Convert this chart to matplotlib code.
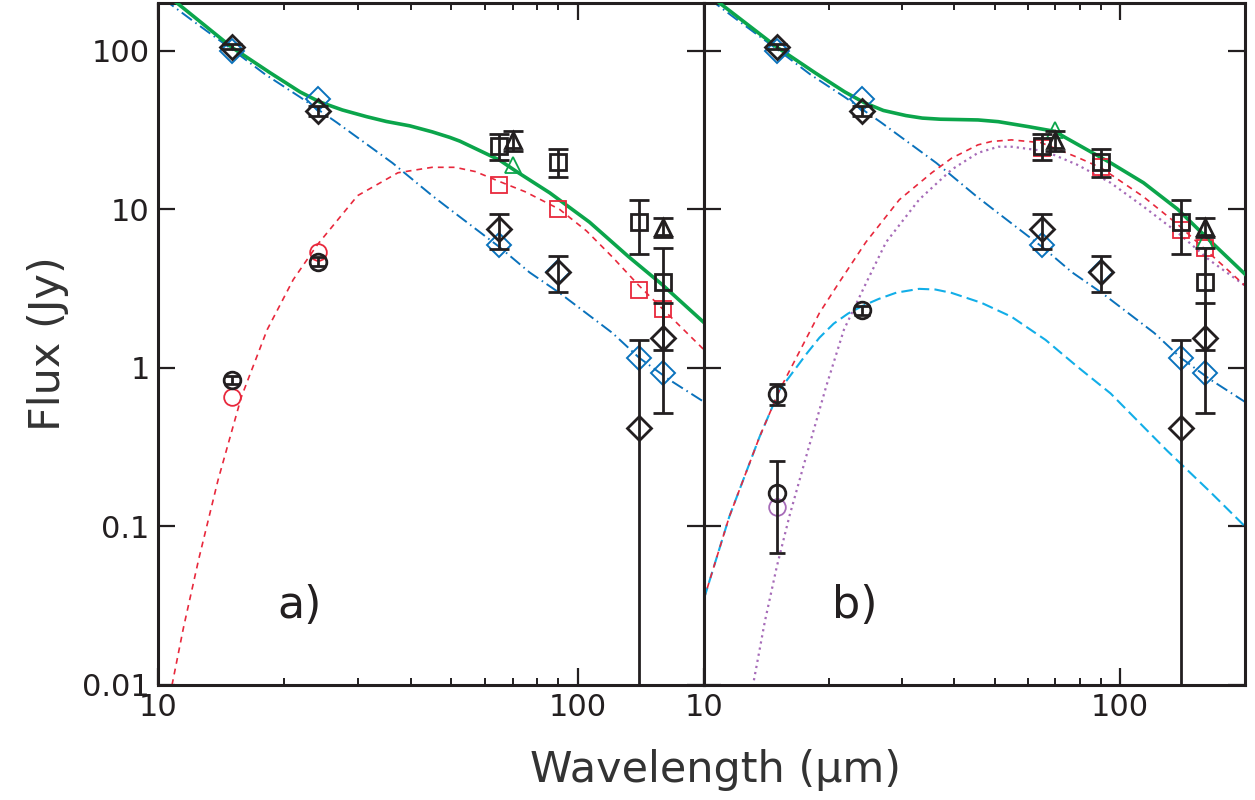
import matplotlib
matplotlib.use("Agg")
import matplotlib.pyplot as plt
from matplotlib.ticker import FixedLocator, NullLocator, FixedFormatter

# ---------------- data ----------------
# photometry: observed (black) and model (coloured)
wl_diam = [15, 24, 65, 90, 140, 160]
obs_diam = [106, 41.8, 7.5, 4.04, 0.42, 1.55]
obs_diam_err = [4.0, 3.0, 1.9, 1.05, 1.08, 1.03]
mod_diam = [100, 49.8, 5.97, 4.0, 1.16, 0.93]

wl_sq = [65, 90, 140, 160]
obs_sq = [25.1, 20.0, 8.3, 3.5]
obs_sq_err = [4.7, 4.1, 3.1, 2.2]
mod_sq_a = [14.3, 10.0, 3.1, 2.35]
mod_sq_b = [24.5, 18.6, 7.4, 5.7]

wl_tri = [70, 160]
obs_tri = [27.2, 7.7]
obs_tri_err = [3.8, 1.05]
wl_tri_a = [70]
mod_tri_a = [19.1]
mod_tri_b = [31.7, 6.4]

wl_circ_a = [15, 24]
obs_circ_a = [0.84, 4.67]
obs_circ_a_err = [0.05, 0.3]
mod_circ_a = [0.656, 5.4]

wl_circ_b = [15, 15, 24]
obs_circ_b = [0.686, 0.163, 2.32]
obs_circ_b_err = [0.10, 0.095, 0.15]
wl_purple_circ = [15]
mod_purple_circ = [0.133]

# model curves
wl_star = [10, 12, 15, 18, 21.8, 26.7, 36.2, 45, 49.6, 65, 76.8, 90.5, 121, 140, 165.5, 200]
f_star = [225, 157, 102, 71, 51, 35.2, 19.6, 12.2, 10.0, 5.8, 4.0, 2.97, 1.66, 1.16, 0.84, 0.61]

wl_dust_a = [10.8, 11.5, 12.5, 13.9, 15.8, 18.2, 21, 24, 29.9, 37.3, 45, 51, 57, 61.6, 65, 75, 90.5, 105, 121, 140, 165, 200]
f_dust_a = [0.010, 0.023, 0.062, 0.196, 0.656, 1.74, 3.6, 6.0, 12.2, 17.0, 18.4, 18.4, 17.3, 15.9, 15.0, 12.9, 10.0, 7.3, 5.0, 3.3, 2.15, 1.3]

wl_tot_a = [10, 11.1, 15, 18.5, 21.8, 24.3, 27.5, 31.4, 35, 39.8, 45, 49.6, 52.4, 65, 71.5, 85.8, 106.7, 132.5, 159, 200]
f_tot_a = [245, 200, 105, 72.6, 55, 47.5, 42.3, 38.4, 35.8, 33.6, 30.8, 28.4, 26.9, 20.5, 17.3, 12.7, 8.3, 5.0, 3.35, 1.93]

wl_warm_b = [10, 11.5, 13.6, 15.2, 17.7, 18.95, 20.5, 22.2, 24, 26.3, 29, 32.9, 36, 39.4, 46.5, 54.9, 66.3, 79.3, 95, 114, 130, 165, 200]
f_warm_b = [0.035, 0.115, 0.367, 0.726, 1.24, 1.55, 1.9, 2.2, 2.45, 2.72, 2.98, 3.15, 3.12, 2.97, 2.57, 2.1, 1.5, 1.01, 0.69, 0.425, 0.3, 0.165, 0.10]

wl_cold_b = [13.1, 14.0, 14.96, 16.06, 17.6, 19.66, 21.7, 24.5, 27.4, 32.9, 39.4, 45.6, 51, 55, 66, 79, 95, 114, 138, 164, 200]
f_cold_b = [0.0098, 0.025, 0.0556, 0.117, 0.275, 0.76, 1.74, 3.4, 6.2, 11.5, 17.8, 22.7, 24.8, 24.8, 23.3, 19.1, 14.7, 10.4, 7.1, 4.8, 3.3]

wl_dust_b = [10, 11.5, 13.6, 15.2, 16.5, 17.7, 18.95, 21.2, 24.5, 29.5, 35.3, 39.4, 45.6, 49.2, 54.9, 64.7, 79.3, 90, 114, 138, 164, 200]
f_dust_b = [0.035, 0.115, 0.367, 0.726, 1.1, 1.57, 2.22, 3.5, 6.2, 11.5, 17.0, 21.0, 25.5, 26.8, 27.4, 26.3, 21.2, 18.3, 12.0, 8.0, 5.3, 3.3]

wl_tot_b = [10, 10.9, 15, 18.5, 21.8, 24.3, 27, 30.6, 33.5, 37, 45.6, 51, 60.3, 69.8, 73.7, 84, 95.1, 114, 137.8, 164, 200]
f_tot_b = [245, 200, 105, 72.6, 55, 47, 42, 39.0, 37.6, 37.0, 36.6, 35.7, 33.2, 31.0, 28.5, 23.5, 19.6, 14.7, 10.0, 6.4, 3.9]

x_major = [10, 100]
x_major_labels = ["10", "100"]
x_minor = [20, 30, 40, 50, 60, 70, 80, 90]
y_major = [0.01, 0.1, 1, 10, 100]
y_major_labels = ["0.01", "0.1", "1", "10", "100"]

# ---------------- style ----------------
BLACK = "#231f20"
GREEN = "#0ba54b"
RED = "#e8283c"
BLUE = "#0a72bc"
CYAN = "#12aee8"
PURPLE = "#a66bb8"

plt.rcParams["font.family"] = ["DejaVu Sans"]

fig = plt.figure(figsize=(12.55, 8), dpi=100)
ax1 = fig.add_axes([0.1259, 0.14375, 0.43506, 0.8525])
ax2 = fig.add_axes([0.56096, 0.14375, 0.43108, 0.8525])

for ax in (ax1, ax2):
    ax.set_xscale("log")
    ax.set_yscale("log")
    ax.set_xlim(10, 200)
    ax.set_ylim(0.01, 200)
    ax.xaxis.set_major_locator(FixedLocator(x_major))
    ax.xaxis.set_major_formatter(FixedFormatter(x_major_labels))
    ax.xaxis.set_minor_locator(FixedLocator(x_minor))
    ax.xaxis.set_minor_formatter(FixedFormatter([""] * len(x_minor)))
    ax.yaxis.set_major_locator(FixedLocator(y_major))
    ax.yaxis.set_major_formatter(FixedFormatter(y_major_labels))
    ax.yaxis.set_minor_locator(NullLocator())
    ax.tick_params(which="both", direction="in", top=True, right=True,
                   colors=BLACK, labelsize=22)
    ax.tick_params(which="major", length=12, width=1.6, pad=6)
    ax.tick_params(which="minor", length=5, width=1.4)
    for s in ax.spines.values():
        s.set_linewidth(2.2)
        s.set_color(BLACK)

ax2.tick_params(labelleft=False)

ms = 12
diam_ms = 12.5
eb_kw = dict(ecolor=BLACK, elinewidth=2.0, capsize=7, capthick=2.0, linestyle="none",
             mec=BLACK, mfc="none", mew=2.0, zorder=6)

def star_and_photometry(ax):
    ax.plot(wl_star, f_star, color=BLUE, lw=1.4, linestyle=(0, (6.5, 2.2, 0.8, 2.2)), zorder=2)

# ---- panel a ----
star_and_photometry(ax1)
ax1.plot(wl_dust_a, f_dust_a, color=RED, lw=1.2, linestyle=(0, (3.5, 3)), zorder=2)
ax1.plot(wl_tot_a, f_tot_a, color=GREEN, lw=2.6, zorder=3)

ax1.plot(wl_diam, mod_diam, "D", ms=diam_ms, mfc="none", mec=BLUE, mew=1.4, zorder=4)
ax1.plot(wl_sq, mod_sq_a, "s", ms=ms, mfc="none", mec=RED, mew=1.3, zorder=4)
ax1.plot(wl_tri_a, mod_tri_a, "^", ms=ms, mfc="none", mec=GREEN, mew=1.3, zorder=4)
ax1.plot(wl_circ_a, mod_circ_a, "o", ms=ms, mfc="none", mec=RED, mew=1.3, zorder=4)

ax1.errorbar(wl_diam, obs_diam, yerr=obs_diam_err, fmt="D", ms=diam_ms, **eb_kw)
ax1.errorbar(wl_sq, obs_sq, yerr=obs_sq_err, fmt="s", ms=ms, **eb_kw)
ax1.errorbar(wl_tri, obs_tri, yerr=obs_tri_err, fmt="^", ms=ms, **eb_kw)
ax1.errorbar(wl_circ_a, obs_circ_a, yerr=obs_circ_a_err, fmt="o", ms=ms,
             **{**eb_kw, "capsize": 5})

ax1.text(0.26, 0.117, "a)", transform=ax1.transAxes, fontsize=32,
         ha="center", va="center", color=BLACK)

# ---- panel b ----
star_and_photometry(ax2)
ax2.plot(wl_warm_b, f_warm_b, color=CYAN, lw=1.5, linestyle=(0, (5.5, 2.5)), zorder=2)
ax2.plot(wl_cold_b, f_cold_b, color=PURPLE, lw=1.6, linestyle=(0, (1, 1.8)), zorder=2)
ax2.plot(wl_dust_b, f_dust_b, color=RED, lw=1.2, linestyle=(0, (3.5, 3)), zorder=2)
ax2.plot(wl_tot_b, f_tot_b, color=GREEN, lw=2.6, zorder=3)

ax2.plot(wl_diam, mod_diam, "D", ms=diam_ms, mfc="none", mec=BLUE, mew=1.4, zorder=4)
ax2.plot(wl_sq, mod_sq_b, "s", ms=ms, mfc="none", mec=RED, mew=1.3, zorder=4)
ax2.plot(wl_tri, mod_tri_b, "^", ms=ms, mfc="none", mec=GREEN, mew=1.3, zorder=4)
ax2.plot(wl_purple_circ, mod_purple_circ, "o", ms=ms, mfc="none", mec=PURPLE, mew=1.3, zorder=4)

ax2.errorbar(wl_diam, obs_diam, yerr=obs_diam_err, fmt="D", ms=diam_ms, **eb_kw)
ax2.errorbar(wl_sq, obs_sq, yerr=obs_sq_err, fmt="s", ms=ms, **eb_kw)
ax2.errorbar(wl_tri, obs_tri, yerr=obs_tri_err, fmt="^", ms=ms, **eb_kw)
ax2.errorbar(wl_circ_b, obs_circ_b, yerr=obs_circ_b_err, fmt="o", ms=ms,
             **{**eb_kw, "capsize": 6})

ax2.text(0.279, 0.117, "b)", transform=ax2.transAxes, fontsize=32,
         ha="center", va="center", color=BLACK)

fig.text(0.038, 0.571, "Flux (Jy)", rotation=90, fontsize=31,
         ha="center", va="center", color="#333333")
fig.text(0.57, 0.0375, "Wavelength (μm)", fontsize=31,
         ha="center", va="center", color="#333333")

fig.savefig("out.png", dpi=100)
